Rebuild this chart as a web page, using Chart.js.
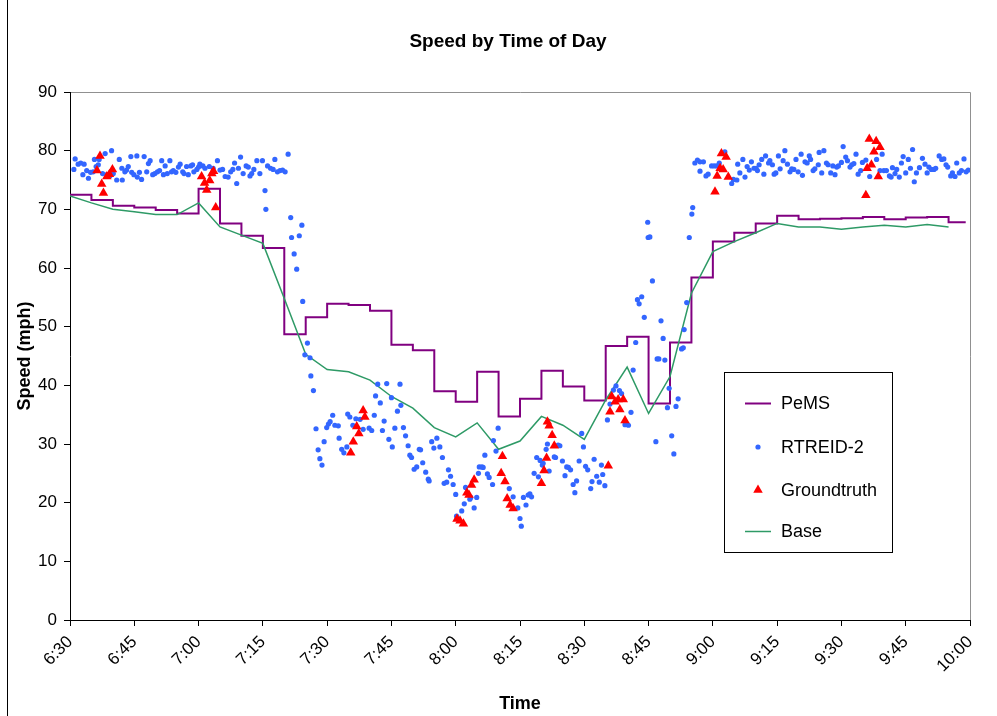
<!DOCTYPE html>
<html>
<head>
<meta charset="utf-8">
<script src="https://cdn.jsdelivr.net/npm/chart.js@4.4.0/dist/chart.umd.min.js"></script>
<style>
html,body{margin:0;padding:0;background:#fff;}
#wrap{width:997px;height:716px;position:relative;}
</style>
</head>
<body>
<div id="wrap"><canvas id="c" width="997" height="716"></canvas></div>
<script>
// ---- data (x = minutes after 6:30) ----
const chartTitle = 'Speed by Time of Day';
const timeLabels = ['6:30','6:45','7:00','7:15','7:30','7:45','8:00','8:15','8:30','8:45','9:00','9:15','9:30','9:45','10:00'];

const pemsMinutes = [0,5,10,15,20,25,30,35,40,45,50,55,60,65,70,75,80,85,90,95,100,105,110,115,120,125,130,135,140,145,150,155,160,165,170,175,180,185,190,195,200,205,209];
const pemsSpeed = [72.5,71.6,70.6,70.3,69.9,69.3,73.5,67.6,65.5,63.4,48.7,51.6,53.9,53.7,52.7,46.9,46.0,39.0,37.2,42.3,34.7,37.7,42.5,39.8,37.4,46.7,48.3,36.9,47.3,58.4,64.5,66.0,67.6,68.9,68.3,68.4,68.5,68.7,68.3,68.6,68.7,67.8,67.8];

const baseMinutes = [0,5,10,15,20,25,30,35,40,45,50,55,60,65,70,75,80,85,90,95,100,105,110,115,120,125,130,135,140,145,150,155,160,165,170,175,180,185,190,195,200,205];
const baseSpeed = [72.3,71.1,70.0,69.6,69.1,69.1,71.1,67.0,65.6,64.2,54.8,45.3,42.7,42.3,40.9,38.1,36.1,32.8,31.2,33.6,29.1,30.5,34.7,33.2,30.8,37.5,43.1,35.2,41.5,55.7,62.8,64.5,66.0,67.6,67.0,67.0,66.6,67.0,67.3,67.0,67.4,67.0];

const rtreid2 = [
[0.9,76.8],[1.2,78.6],[1.9,77.7],[2.5,77.9],[3.0,75.9],[3.3,77.7],[3.9,76.6],[4.3,75.3],[4.8,76.3],[5.4,76.4],[5.7,78.5],[6.1,77.3],[6.6,77.6],[6.8,78.5],[7.6,76.1],[8.2,79.5],[8.6,75.9],[9.3,75.7],[9.7,80.0],[10.1,76.1],[10.9,75.0],[11.5,78.5],[12.1,77.0],[12.2,75.0],[12.8,76.4],[13.2,76.7],[13.6,77.3],[14.2,79.0],[14.4,76.3],[14.9,75.9],[15.6,79.1],[15.7,75.5],[16.2,76.3],[16.7,75.1],[17.3,79.0],[17.9,76.4],[18.3,77.8],[18.7,78.3],[19.3,75.9],[19.8,76.1],[20.4,76.4],[20.9,76.6],[21.4,78.3],[21.8,75.9],[22.2,77.4],[22.7,76.1],[23.3,78.3],[23.7,76.4],[24.1,76.6],[24.7,76.3],[25.3,77.2],[25.7,77.7],[26.3,76.4],[26.6,76.1],[27.2,77.3],[27.6,75.9],[28.2,77.4],[28.6,77.6],[28.9,76.4],[29.6,76.8],[30.0,77.2],[30.3,77.7],[31.0,77.4],[31.5,77.0],[32.5,77.3],[33.4,77.0],[34.4,78.3],[35.0,76.7],[35.6,76.8],[36.2,75.6],[36.9,75.5],[37.5,76.4],[38.0,76.8],[38.4,77.9],[38.9,74.4],[39.3,77.0],[39.8,78.9],[40.4,76.1],[41.1,77.4],[41.6,77.2],[42.0,75.7],[42.4,76.1],[42.9,76.8],[43.6,78.3],[44.3,76.1],[44.9,78.3],[45.5,73.2],[45.7,70.0],[46.1,77.4],[46.8,77.0],[47.4,76.8],[47.8,78.5],[48.4,76.4],[49.0,76.6],[49.6,76.7],[50.2,76.4],[50.9,79.4],
[51.5,68.6],[51.7,65.2],[52.3,62.4],[52.9,59.8],[53.5,65.5],[54.1,67.3],[54.3,54.3],[54.8,45.2],[55.4,47.2],[56.0,44.7],[56.2,41.6],[56.8,39.1],[57.4,32.6],[57.9,29.0],[58.3,27.5],[58.8,26.4],[59.3,30.4],[59.9,32.8],[60.3,33.4],[60.7,33.8],[61.3,34.9],[61.8,33.2],[62.6,33.1],[62.8,31.0],[63.4,29.1],[63.9,28.5],[64.6,29.5],[64.8,35.1],[65.3,34.6],[66.0,33.2],[66.7,34.3],[67.7,34.2],[68.4,32.5],[69.8,32.7],[70.4,32.3],[71.0,34.9],[71.3,38.2],[71.8,40.2],[72.4,37.0],[72.9,32.3],[73.3,33.9],[73.9,40.3],[74.4,30.8],[75.0,37.9],[75.2,29.5],[75.8,32.7],[76.4,35.6],[77.0,40.2],[77.2,36.6],[77.8,32.8],[78.3,31.4],[78.9,29.7],[79.3,28.1],[79.7,27.7],[80.3,25.7],[80.9,26.1],[81.5,29.1],[81.8,29.0],[82.3,26.8],[83.0,25.2],[83.6,24.0],[83.8,23.7],[84.4,30.4],[84.9,29.3],[85.6,31.0],[86.3,29.5],[86.9,27.7],[87.3,23.3],[87.9,23.5],[88.3,25.6],[88.8,24.5],[89.4,23.1],[90.0,21.4],[90.2,17.7],[91.4,18.6],[92.0,19.8],[92.3,22.6],[93.3,20.6],[93.5,20.9],[94.3,19.1],[94.9,20.9],[95.3,25.0],[95.5,26.1],[96.1,26.1],[96.4,26.0],[96.8,28.1],[97.4,24.9],[97.8,24.3],[98.6,23.1],[98.8,30.6],[99.4,28.8],[99.9,32.7],
[102.5,22.4],[103.4,21.0],[104.5,19.1],[105.0,17.3],[105.3,16.0],[105.8,20.9],[106.4,19.6],[106.9,21.3],[107.3,21.5],[107.7,21.0],[108.3,25.0],[108.9,27.7],[109.3,24.4],[109.7,27.2],[110.2,26.4],[110.4,26.7],[111.1,29.1],[111.4,30.0],[111.8,25.4],[113.0,27.8],[113.3,27.7],[113.9,29.8],[114.3,29.7],[114.9,27.1],[115.5,24.6],[115.9,26.1],[116.3,26.0],[116.8,25.6],[117.4,23.1],[117.8,21.7],[118.2,23.7],[118.8,27.1],[119.4,31.8],[119.8,29.5],[120.3,26.2],[120.8,25.6],[121.5,22.4],[121.8,23.6],[122.3,27.4],[122.9,24.5],[123.5,23.5],[124.0,26.4],[124.3,24.8],[124.8,22.9],[125.4,34.1],[126.0,36.8],[126.8,39.2],[127.4,39.9],[128.2,39.1],[128.7,38.6],[129.5,33.3],[130.3,33.2],[130.9,35.4],[131.4,42.6],[132.0,47.3],[132.4,54.6],[132.8,53.9],[133.4,55.1],[134.0,51.6],[134.8,67.8],[134.9,65.2],[135.3,65.3],[135.9,57.8],[136.7,30.4],[137.0,44.5],[137.4,44.5],[137.9,51.0],[138.4,48.0],[138.8,44.3],[139.4,36.2],[139.8,39.5],[140.4,31.4],[140.9,28.3],[141.4,36.4],[141.9,37.7],[142.7,46.2],[143.1,46.4],[143.3,49.5],[143.9,54.1],[144.5,65.2],[145.1,69.2],[145.3,70.3],
[145.8,77.9],[146.4,78.4],[147.0,78.1],[147.8,78.1],[147.0,76.5],[148.4,75.7],[148.9,76.0],[149.7,77.4],[150.3,77.4],[150.9,77.4],[151.5,77.9],[152.8,79.8],[154.4,74.4],[154.8,75.1],[155.6,75.0],[155.8,77.7],[156.3,76.2],[157.0,78.5],[157.5,75.5],[158.0,77.3],[158.5,76.7],[159.0,78.1],[159.6,77.0],[160.1,77.0],[160.4,76.6],[160.8,77.6],[161.4,78.5],[161.9,76.0],[162.3,79.1],[163.0,77.9],[163.3,78.3],[163.9,77.6],[164.3,76.0],[164.7,76.2],[165.3,79.1],[165.7,76.9],[166.4,78.3],[166.8,80.0],[167.4,77.7],[168.0,76.4],[168.4,76.9],[168.9,76.8],[169.4,78.5],[169.9,76.4],[170.6,79.4],[170.9,75.8],[171.5,78.1],[172.0,77.9],[172.5,79.1],[172.8,78.5],[173.4,76.6],[173.8,76.9],[174.6,77.6],[174.8,79.7],[175.4,76.2],[175.9,80.0],[176.5,77.9],[176.9,77.6],[177.5,76.2],[178.0,77.4],[178.5,75.9],[178.9,77.2],[179.3,77.4],[180.0,78.0],[180.4,80.7],[181.0,78.9],[181.4,78.3],[182.0,77.2],[182.4,77.6],[182.9,77.8],[183.4,79.4],[183.9,76.0],[184.5,76.6],[184.9,78.0],[185.7,78.4],[186.6,75.6],[188.2,78.5],[189.0,76.6],[189.5,79.4],[189.9,76.6],[190.5,76.6],[191.2,75.7],[191.6,75.5],[191.9,77.1],[192.5,76.1],[192.9,76.8],[193.5,75.5],[194.0,77.9],[194.4,79.0],[195.0,76.2],[195.6,78.5],[196.1,77.0],[196.6,80.2],[197.0,74.7],[197.5,76.2],[198.2,77.1],[198.9,78.7],[199.5,77.7],[200.0,76.2],[200.4,77.2],[201.0,76.8],[201.6,76.8],[202.0,77.0],[202.8,79.1],[203.4,78.5],[203.9,78.6],[204.4,77.6],[204.8,77.2],[205.5,75.7],[205.9,76.2],[206.5,75.6],[206.9,77.9],[207.5,76.2],[208.0,76.6],[208.6,78.6],[209.1,76.4],[209.6,76.7]
];

const groundtruth = [
[6.3,76.6],[7.0,79.1],[7.4,74.3],[7.8,72.8],[8.6,75.6],[9.2,76.0],[9.9,76.8],
[30.7,75.6],[31.4,74.5],[31.9,73.3],[32.6,74.9],[33.1,76.1],[33.5,76.5],[34.0,70.3],
[65.5,28.5],[66.1,30.4],[66.9,33.0],[67.4,31.8],[68.4,35.7],[68.8,34.6],
[90.3,17.2],[91.0,16.9],[91.8,16.4],[92.6,21.7],[93.1,21.3],[93.7,23.0],[94.3,23.9],
[100.6,25.0],[100.9,27.9],[101.5,23.6],[102.0,20.7],[102.7,19.6],[103.4,19.0],
[110.0,23.3],[110.6,25.5],[111.2,27.6],[111.4,33.8],[111.8,33.1],[112.5,31.5],[113.0,29.7],
[125.6,26.3],
[126.0,35.5],[126.4,38.1],[127.2,37.2],[127.9,37.6],[128.3,35.9],[129.1,37.6],[129.5,34.0],
[150.5,73.0],[151.0,75.7],[151.7,77.0],[152.0,79.5],[152.4,76.8],[153.1,78.9],[153.6,75.5],
[185.7,72.4],[186.0,77.0],[186.5,82.0],[187.0,77.6],[187.6,79.8],[188.1,81.6],[188.6,75.6],[189.0,80.6]
];

const seriesNames = ['PeMS','RTREID-2','Groundtruth','Base'];
const yTicks = [0,10,20,30,40,50,60,70,80,90];

// ---- build chart ----
const FONT = "'Liberation Sans', Arial, sans-serif";
Chart.defaults.font.family = FONT;
Chart.defaults.color = '#000';

const COLORS = { pems: '#800080', rt: '#3366ff', gt: '#ff0000', base: '#2e9a66' };

const framePlugin = {
  id: 'frame',
  beforeDraw(chart) {
    const ctx = chart.ctx, a = chart.chartArea;
    ctx.save();
    ctx.fillStyle = '#fff';
    ctx.fillRect(0, 0, chart.width, chart.height);
    ctx.strokeStyle = '#000';
    ctx.lineWidth = 1;
    ctx.beginPath();
    ctx.moveTo(7.5, 0); ctx.lineTo(7.5, chart.height);
    ctx.stroke();
    ctx.strokeStyle = '#909090';
    ctx.beginPath();
    ctx.moveTo(a.left, Math.round(a.top) + 0.5);
    ctx.lineTo(Math.round(a.right) + 0.5, Math.round(a.top) + 0.5);
    ctx.lineTo(Math.round(a.right) + 0.5, a.bottom);
    ctx.stroke();
    // chart title
    ctx.fillStyle = '#000';
    ctx.font = 'bold 19px ' + FONT;
    ctx.textAlign = 'center';
    ctx.textBaseline = 'middle';
    ctx.fillText(chartTitle, 508, 42);
    ctx.restore();
  }
};

function drawTri(ctx, x, y, r) {
  ctx.beginPath();
  ctx.moveTo(x, y - r);
  ctx.lineTo(x + r * Math.cos(Math.PI / 6), y + r * 0.5);
  ctx.lineTo(x - r * Math.cos(Math.PI / 6), y + r * 0.5);
  ctx.closePath();
  ctx.fill();
}

const legendPlugin = {
  id: 'insideLegend',
  afterDraw(chart) {
    const ctx = chart.ctx;
    const box = { x: 724.5, y: 372.5, w: 168, h: 180 };
    ctx.save();
    ctx.fillStyle = '#fff';
    ctx.fillRect(box.x, box.y, box.w, box.h);
    ctx.strokeStyle = '#000';
    ctx.lineWidth = 1;
    ctx.strokeRect(box.x, box.y, box.w, box.h);
    const rows = [403, 447, 490, 531];
    const kinds = ['line', 'dot', 'tri', 'line'];
    const ds = chart.data.datasets;
    ctx.font = '18px ' + FONT;
    ctx.textBaseline = 'middle';
    ctx.textAlign = 'left';
    [0, 1, 2, 3].forEach((di, i) => {
      const d = ds[di], y = rows[i];
      const col = d.borderColor;
      if (kinds[i] === 'line') {
        ctx.strokeStyle = col; ctx.lineWidth = d.borderWidth;
        ctx.beginPath(); ctx.moveTo(745, y + 0.5); ctx.lineTo(771, y + 0.5); ctx.stroke();
      } else if (kinds[i] === 'dot') {
        ctx.fillStyle = d.pointBackgroundColor;
        ctx.beginPath(); ctx.arc(758, y, d.pointRadius, 0, Math.PI * 2); ctx.fill();
      } else {
        ctx.fillStyle = d.pointBackgroundColor;
        drawTri(ctx, 758, y, d.pointRadius);
      }
      ctx.fillStyle = '#000';
      ctx.fillText(d.label, 781, y + 1);
    });
    ctx.restore();
  }
};

const pemsData = pemsMinutes.map((m, i) => ({ x: m, y: pemsSpeed[i] }));
const baseData = baseMinutes.map((m, i) => ({ x: m, y: baseSpeed[i] }));
const rtData = rtreid2.map(p => ({ x: p[0], y: p[1] }));
const gtData = groundtruth.map(p => ({ x: p[0], y: p[1] }));

new Chart(document.getElementById('c'), {
  type: 'line',
  data: {
    datasets: [
      { label: seriesNames[0], data: pemsData, stepped: 'before', borderColor: COLORS.pems, borderWidth: 2,
        pointRadius: 0, fill: false, order: 3 },
      { label: seriesNames[1], data: rtData, showLine: false, pointStyle: 'circle', pointRadius: 2.6,
        pointBackgroundColor: COLORS.rt, borderColor: COLORS.rt, pointBorderWidth: 0, order: 1 },
      { label: seriesNames[2], data: gtData, showLine: false, pointStyle: 'triangle', pointRadius: 5.5,
        pointBackgroundColor: COLORS.gt, borderColor: COLORS.gt, pointBorderWidth: 0, order: 0 },
      { label: seriesNames[3], data: baseData, borderColor: COLORS.base, borderWidth: 1.5,
        pointRadius: 0, fill: false, tension: 0, order: 2 }
    ]
  },
  options: {
    responsive: false,
    animation: false,
    devicePixelRatio: 1,
    layout: { padding: { left: 0, right: 27, top: 92, bottom: 0 } },
    plugins: {
      legend: { display: false },
      tooltip: { enabled: false },
      title: { display: false }
    },
    scales: {
      x: {
        type: 'linear',
        min: 0, max: 210,
        afterFit: (s) => { s.height = 96; },
        afterBuildTicks: (s) => { s.ticks = timeLabels.map((t, i) => ({ value: i * 15 })); },
        ticks: {
          autoSkip: false, maxRotation: 45, minRotation: 45,
          font: { size: 17, family: FONT }, color: '#000', padding: 6,
          callback: (v) => timeLabels[Math.round(v / 15)]
        },
        grid: { display: true, drawOnChartArea: false, drawTicks: true, tickLength: 6, color: '#000' },
        border: { display: true, color: '#000', width: 1 },
        title: { display: true, text: 'Time', color: '#000',
          font: { size: 18, weight: 'bold', family: FONT }, padding: { top: 0, bottom: 1 } }
      },
      y: {
        min: 0, max: 90,
        afterFit: (s) => { s.width = 70; },
        afterBuildTicks: (s) => { s.ticks = yTicks.map(v => ({ value: v })); },
        ticks: { font: { size: 17, family: FONT }, color: '#000', padding: 7 },
        grid: { display: true, drawOnChartArea: false, drawTicks: true, tickLength: 6, color: '#000' },
        border: { display: true, color: '#000', width: 1 },
        title: { display: true, text: 'Speed (mph)', color: '#000',
          font: { size: 18, weight: 'bold', family: FONT }, padding: { top: 14, bottom: 0 } }
      }
    }
  },
  plugins: [framePlugin, legendPlugin]
});
</script>
</body>
</html>
